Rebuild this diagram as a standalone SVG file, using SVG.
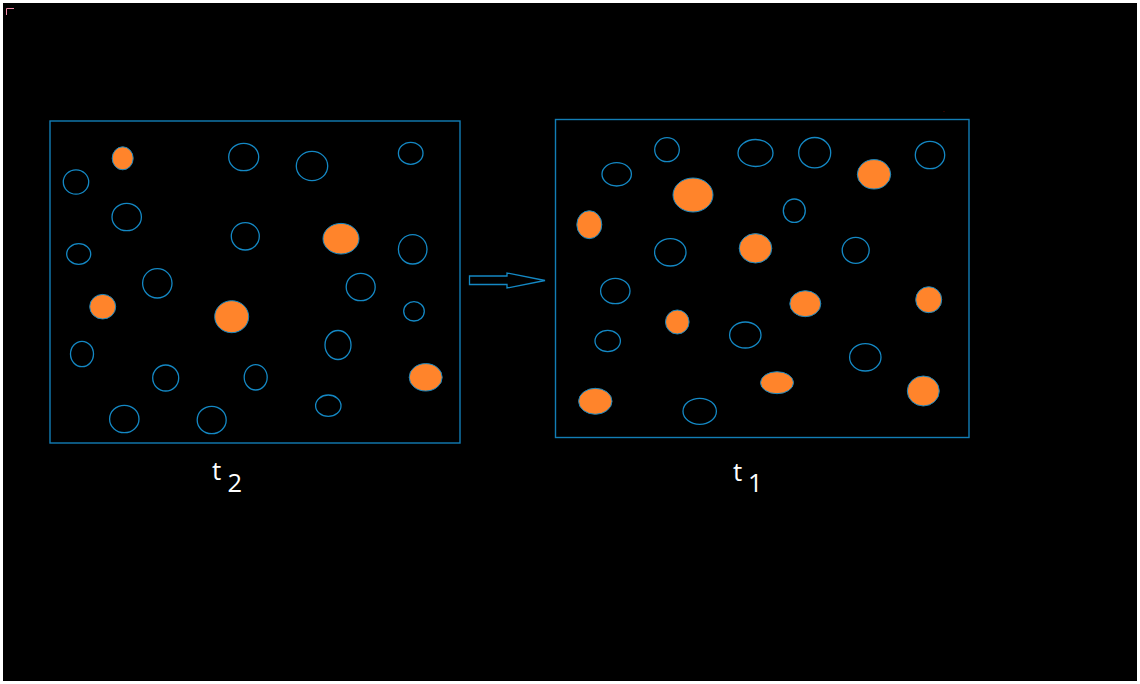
<svg xmlns="http://www.w3.org/2000/svg" width="1140" height="684" viewBox="0 0 1140 684">
<style>
.frame{fill:none;stroke:#127db5;stroke-width:1.4}
.o{fill:none;stroke:#1488c4;stroke-width:1.3}
.f{fill:#ff842b;stroke:#1488c4;stroke-width:1}
.lbl{fill:#ffffff;font-family:"Open Sans","Noto Sans",sans-serif;font-size:26px}
.sub{fill:#ffffff;font-family:"Open Sans","Noto Sans",sans-serif;font-size:25.5px}
</style>
<rect x="0" y="0" width="1140" height="684" fill="#ffffff"/>
<rect x="3" y="3" width="1134" height="678" fill="#000000"/>
<path d="M6.5 15 V8.5 H14" fill="none" stroke="#f08aa8" stroke-width="1"/>
<rect x="943.5" y="111" width="1" height="1" fill="#5a0000"/>

<g id="box-t2">
<rect class="frame" x="50" y="121" width="410" height="322"/>
<ellipse class="f" cx="122.7" cy="158.3" rx="10.5" ry="11.5"/>
<ellipse class="o" cx="243.7" cy="157" rx="15" ry="13.7"/>
<ellipse class="o" cx="312" cy="166" rx="15.7" ry="14.7"/>
<ellipse class="o" cx="410.7" cy="153.3" rx="12.3" ry="11"/>
<ellipse class="o" cx="76" cy="182" rx="12.7" ry="12.2"/>
<ellipse class="o" cx="126.7" cy="217" rx="14.7" ry="13.7"/>
<ellipse class="o" cx="245.3" cy="236.3" rx="14" ry="13.7"/>
<ellipse class="f" cx="341" cy="238.7" rx="18" ry="15.3"/>
<ellipse class="o" cx="412.7" cy="249.3" rx="14.3" ry="14.7"/>
<ellipse class="o" cx="78.7" cy="254" rx="12" ry="10.3"/>
<ellipse class="o" cx="157.3" cy="283.3" rx="14.7" ry="14.7"/>
<ellipse class="o" cx="360.7" cy="287" rx="14.5" ry="13.7"/>
<ellipse class="f" cx="102.7" cy="306.7" rx="13" ry="12.3"/>
<ellipse class="f" cx="231.7" cy="316.7" rx="17" ry="16"/>
<ellipse class="o" cx="414" cy="311.3" rx="10.3" ry="9.7"/>
<ellipse class="o" cx="82" cy="354" rx="11.5" ry="12.7"/>
<ellipse class="o" cx="338" cy="345" rx="13" ry="14.5"/>
<ellipse class="o" cx="165.7" cy="378" rx="13" ry="13"/>
<ellipse class="o" cx="255.7" cy="377.3" rx="11.5" ry="12.7"/>
<ellipse class="f" cx="425.7" cy="377.3" rx="16.5" ry="13.7"/>
<ellipse class="o" cx="124.3" cy="419" rx="14.7" ry="13.7"/>
<ellipse class="o" cx="211.7" cy="420" rx="14.5" ry="13.7"/>
<ellipse class="o" cx="328.3" cy="405.7" rx="12.7" ry="10.7"/>
</g>

<g id="box-t1">
<rect class="frame" x="555.5" y="119.5" width="413.5" height="318"/>
<ellipse class="o" cx="616.7" cy="174.3" rx="14.7" ry="11.7"/>
<ellipse class="o" cx="667" cy="149.7" rx="12.3" ry="12"/>
<ellipse class="o" cx="755.5" cy="153" rx="17.5" ry="13.5"/>
<ellipse class="o" cx="814.7" cy="152.7" rx="16" ry="15.2"/>
<ellipse class="f" cx="874" cy="174.3" rx="16.7" ry="14.7"/>
<ellipse class="o" cx="930" cy="155" rx="14.7" ry="13.7"/>
<ellipse class="f" cx="693" cy="195" rx="20" ry="17"/>
<ellipse class="f" cx="589.3" cy="224.7" rx="12.5" ry="14"/>
<ellipse class="o" cx="794.3" cy="210.7" rx="11" ry="11.7"/>
<ellipse class="o" cx="670.3" cy="252.3" rx="15.7" ry="13.7"/>
<ellipse class="f" cx="755.5" cy="248.3" rx="16.3" ry="14.7"/>
<ellipse class="o" cx="855.7" cy="250.3" rx="13.5" ry="13"/>
<ellipse class="o" cx="615.3" cy="291" rx="14.7" ry="12.7"/>
<ellipse class="f" cx="677.3" cy="322" rx="11.8" ry="12"/>
<ellipse class="f" cx="805.3" cy="303.7" rx="15.5" ry="13"/>
<ellipse class="f" cx="928.7" cy="299.7" rx="13" ry="13"/>
<ellipse class="o" cx="607.7" cy="341" rx="12.7" ry="10.7"/>
<ellipse class="o" cx="745.3" cy="335" rx="15.7" ry="13"/>
<ellipse class="o" cx="865.3" cy="357.3" rx="15.7" ry="13.7"/>
<ellipse class="f" cx="595.3" cy="401.3" rx="16.7" ry="13"/>
<ellipse class="o" cx="699.7" cy="411.3" rx="16.7" ry="13"/>
<ellipse class="f" cx="777" cy="382.7" rx="16.5" ry="11"/>
<ellipse class="f" cx="923.3" cy="391" rx="16" ry="15"/>
</g>

<g id="connectors">
<polygon class="o" points="469.5,276 507,276 507,273 545,280.5 507,288 507,284.5 469.5,284.5"/>
</g>

<g id="label-t2">
<text class="lbl" x="212" y="480">t</text>
<text class="sub" x="227.5" y="492">2</text>
</g>
<g id="label-t1">
<text class="lbl" x="733" y="481">t</text>
<text class="sub" x="748" y="492">1</text>
</g>
</svg>
